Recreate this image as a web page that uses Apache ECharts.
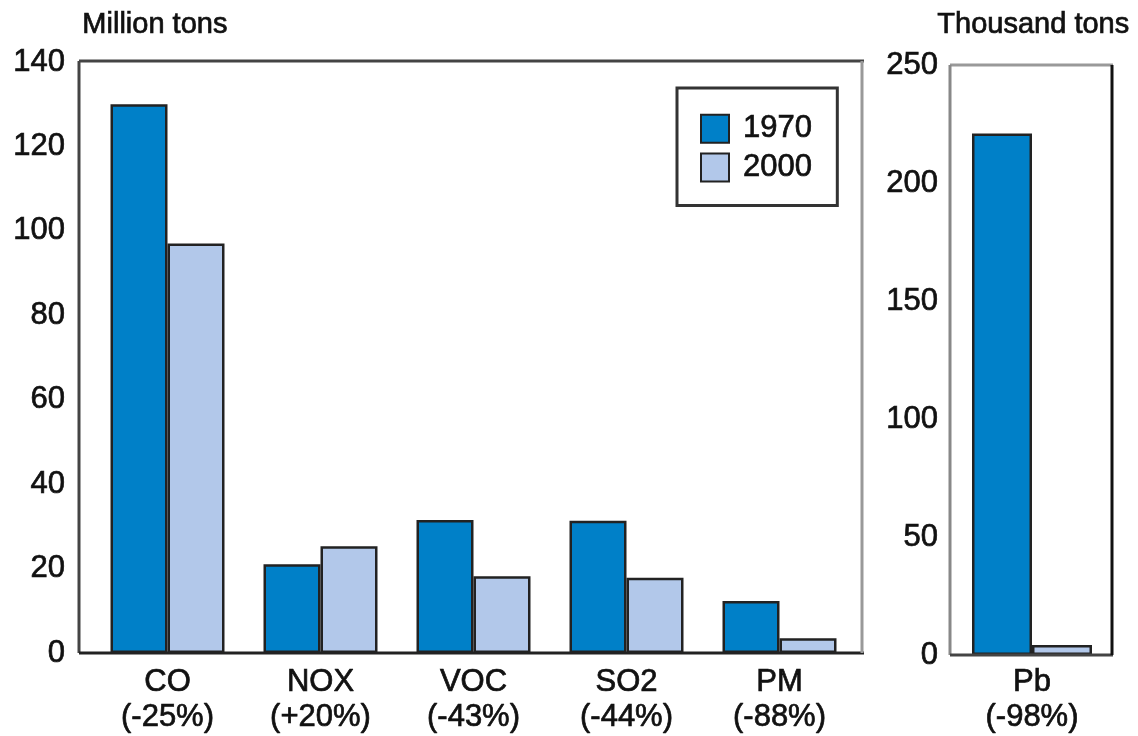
<!DOCTYPE html>
<html>
<head>
<meta charset="utf-8">
<script src="https://cdn.jsdelivr.net/npm/echarts@6/dist/echarts.min.js"></script>
<style>
html,body{margin:0;padding:0;background:#fff;}
#chart{width:1138px;height:736px;}
</style>
</head>
<body>
<div id="chart"></div>
<script>
// ---- data ----
const pollutants = ['CO', 'NOX', 'VOC', 'SO2', 'PM'];
const changes = ['-25%', '+20%', '-43%', '-44%', '-88%'];
const values1970 = [130, 21, 31.5, 31.3, 12.3];
const values2000 = [97, 25.3, 18.2, 17.8, 3.5];

const leadCategory = ['Pb'];
const leadChange = ['-98%'];
const lead1970 = [221];
const lead2000 = [4.2];

const leftAxisMax = 140, leftAxisStep = 20;
const rightAxisMax = 250, rightAxisStep = 50;
const seriesNames = ['1970', '2000'];
const unitLeft = 'Million tons';
const unitRight = 'Thousand tons';

// ---- styles ----
const FONT = 'Liberation Sans, Arial, sans-serif';
const C1970 = '#0080c8';
const C2000 = '#b2c8ea';
const BORDER = '#222';
const TXT = '#111';

const cats = pollutants.map((p, i) => p + '\n(' + changes[i] + ')');
const leadCats = leadCategory.map((p, i) => p + '\n(' + leadChange[i] + ')');

const chart = echarts.init(document.getElementById('chart'), null, {renderer: 'canvas'});

const labelStyle = {color: TXT, fontSize: 31, fontFamily: FONT, textBorderColor: TXT, textBorderWidth: 0.7};

function barSeries(name, data, color, idx, width) {
  return {
    name: name, type: 'bar', data: data,
    xAxisIndex: idx, yAxisIndex: idx,
    barWidth: width, barGap: '0%',
    itemStyle: {color: color, borderColor: BORDER, borderWidth: 2.5},
    emphasis: {disabled: true}
  };
}

function line(x1, y1, x2, y2, color) {
  return {type: 'line', shape: {x1, y1, x2, y2}, style: {stroke: color, lineWidth: 3}, z: 10};
}

const option = {
  animation: false,
  backgroundColor: '#fff',
  textStyle: {fontFamily: FONT},
  grid: [
    {left: 91, top: 62, width: 765, height: 591},
    {left: 950, top: 65, width: 164, height: 590}
  ],
  xAxis: [
    {type: 'category', gridIndex: 0, data: cats,
     axisLine: {show: false}, axisTick: {show: false},
     axisLabel: Object.assign({interval: 0, margin: 12, lineHeight: 35}, labelStyle)},
    {type: 'category', gridIndex: 1, data: leadCats,
     axisLine: {show: false}, axisTick: {show: false},
     axisLabel: Object.assign({interval: 0, margin: 10, lineHeight: 35}, labelStyle)}
  ],
  yAxis: [
    {type: 'value', gridIndex: 0, min: 0, max: leftAxisMax, interval: leftAxisStep,
     axisLine: {show: false}, axisTick: {show: false}, splitLine: {show: false},
     axisLabel: Object.assign({margin: 26}, labelStyle)},
    {type: 'value', gridIndex: 1, min: 0, max: rightAxisMax, interval: rightAxisStep,
     axisLine: {show: false}, axisTick: {show: false}, splitLine: {show: false},
     axisLabel: Object.assign({margin: 12}, labelStyle)}
  ],
  legend: {
    orient: 'vertical',
    left: 677, top: 88,
    padding: [25, 25, 22, 23],
    itemWidth: 28, itemHeight: 28, itemGap: 7,
    icon: 'rect',
    borderColor: '#333', borderWidth: 3,
    data: seriesNames,
    textStyle: {color: TXT, fontSize: 31, fontFamily: FONT, padding: [0, 0, 0, 9], textBorderColor: TXT, textBorderWidth: 0.7},
    selectedMode: false
  },
  series: [
    barSeries(seriesNames[0], values1970, C1970, 0, 57),
    barSeries(seriesNames[1], values2000, C2000, 0, 57),
    barSeries(seriesNames[0], lead1970, C1970, 1, 60),
    barSeries(seriesNames[1], lead2000, C2000, 1, 60)
  ],
  graphic: [
    {type: 'text', left: 82, top: 10, style: {text: unitLeft, fill: TXT, fontSize: 29, fontFamily: FONT, stroke: TXT, lineWidth: 0.7}},
    {type: 'text', left: 937, top: 10, style: {text: unitRight, fill: TXT, fontSize: 29, fontFamily: FONT, stroke: TXT, lineWidth: 0.7}},
    // left frame
    line(79, 61, 864, 61, '#444'),
    line(79, 61, 79, 653, '#444'),
    line(79, 653, 864, 653, '#222'),
    line(862, 61, 862, 653, '#999'),
    // right frame
    line(950, 65, 1113, 65, '#999'),
    line(950, 65, 950, 655, '#888'),
    line(950, 655, 1113, 655, '#444'),
    line(1112, 65, 1112, 655, '#111')
  ]
};
chart.setOption(option);
</script>
</body>
</html>
